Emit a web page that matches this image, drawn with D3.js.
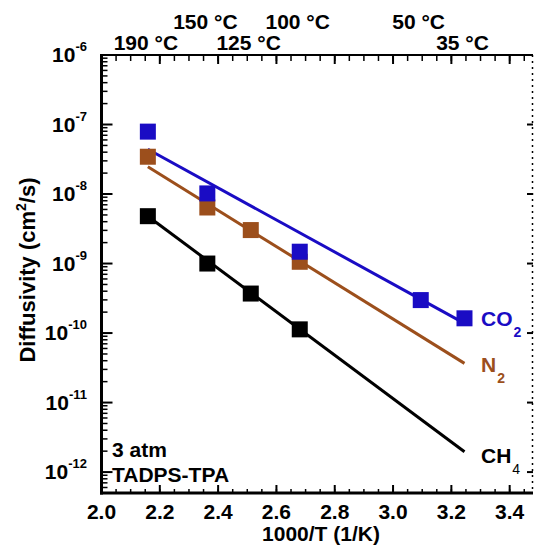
<!DOCTYPE html>
<html>
<head>
<meta charset="utf-8">
<script src="https://cdn.jsdelivr.net/npm/d3@7"></script>
<style>
  body { margin: 0; background: #fff; }
  svg { display: block; }
  text { font-family: "Liberation Sans", Arial, sans-serif; font-weight: bold; }
</style>
</head>
<body>
<svg></svg>
<script>
// data
let co2X = [2.159, 2.363, 2.680, 3.095, 3.245];
let co2Y = [7.9e-8, 1.02e-8, 1.48e-9, 2.98e-10, 1.63e-10];
let n2X = [2.159, 2.363, 2.512, 2.680];
let n2Y = [3.44e-8, 6.4e-9, 3.03e-9, 1.06e-9];
let ch4X = [2.159, 2.363, 2.512, 2.680];
let ch4Y = [4.8e-9, 1.0e-9, 3.7e-10, 1.13e-10];

// fitted lines (end points)
let co2Fit = [[2.159, 4.4e-8], [3.245, 1.38e-10]];
let n2Fit = [[2.159, 2.47e-8], [3.245, 3.66e-11]];
let ch4Fit = [[2.159, 4.8e-9], [3.245, 1.96e-12]];

// top axis temperatures (°C), two rows of labels
let tempRow1 = [150, 100, 50];
let tempRow2 = [190, 125, 35];

let xTicks = [2.0, 2.2, 2.4, 2.6, 2.8, 3.0, 3.2, 3.4];
let yExp = [-6, -7, -8, -9, -10, -11, -12];

let config = { svg: {}, plot: {} };
config.svg.width = 534;
config.svg.height = 549;
config.plot.left = 101.5;
config.plot.right = 533;
config.plot.top = 55;
config.plot.bottom = 493;

let svg = d3.select('svg')
  .attr('width', config.svg.width)
  .attr('height', config.svg.height);

let x = d3.scaleLinear().domain([2.0, 3.48]).range([config.plot.left, config.plot.right]);
let y = d3.scaleLog().domain([5e-13, 1e-6]).range([config.plot.bottom, config.plot.top]);

let blue = '#1a0cc4';
let brown = '#9c4f1c';

function tempToX(c) { return 1000 / (c + 273.15); }

// minor ticks
let xMinor = d3.range(2.0, 3.48, 0.05).map(v => +v.toFixed(2));
let yMinor = [];
for (let e = -13; e < -6; e++) {
  for (let m = 2; m < 10; m++) {
    let v = m * Math.pow(10, e);
    if (v >= 5e-13 && v <= 1e-6) yMinor.push(v);
  }
}
let yMajor = yExp.map(e => Math.pow(10, e));

let axes = svg.append('g').attr('stroke', '#000');

// bottom ticks
axes.selectAll('.bmin').data(xMinor).enter().append('line')
  .attr('x1', d => x(d)).attr('x2', d => x(d))
  .attr('y1', config.plot.bottom).attr('y2', config.plot.bottom - 4)
  .attr('stroke-width', 1.5);
axes.selectAll('.bmaj').data(xTicks).enter().append('line')
  .attr('x1', d => x(d)).attr('x2', d => x(d))
  .attr('y1', config.plot.bottom).attr('y2', config.plot.bottom - 8)
  .attr('stroke-width', 2);
// top ticks
axes.selectAll('.tmin').data(xMinor).enter().append('line')
  .attr('x1', d => x(d)).attr('x2', d => x(d))
  .attr('y1', config.plot.top).attr('y2', config.plot.top + 6)
  .attr('stroke-width', 1.5);
axes.selectAll('.tmaj').data(xTicks).enter().append('line')
  .attr('x1', d => x(d)).attr('x2', d => x(d))
  .attr('y1', config.plot.top).attr('y2', config.plot.top + 9)
  .attr('stroke-width', 2);
// left ticks
axes.selectAll('.lmin').data(yMinor).enter().append('line')
  .attr('x1', config.plot.left).attr('x2', config.plot.left + 6)
  .attr('y1', d => y(d)).attr('y2', d => y(d))
  .attr('stroke-width', 1.5);
axes.selectAll('.lmaj').data(yMajor).enter().append('line')
  .attr('x1', config.plot.left).attr('x2', config.plot.left + 11)
  .attr('y1', d => y(d)).attr('y2', d => y(d))
  .attr('stroke-width', 2);
// right ticks
axes.selectAll('.rmaj').data(yMajor).enter().append('line')
  .attr('x1', config.plot.right).attr('x2', config.plot.right - 6)
  .attr('y1', d => y(d)).attr('y2', d => y(d))
  .attr('stroke-width', 2);

// frame
axes.append('line')
  .attr('x1', config.plot.left).attr('x2', config.plot.left)
  .attr('y1', config.plot.top).attr('y2', config.plot.bottom + 1.5)
  .attr('stroke-width', 3);
axes.append('line')
  .attr('x1', config.plot.left - 1.5).attr('x2', config.plot.right)
  .attr('y1', config.plot.bottom).attr('y2', config.plot.bottom)
  .attr('stroke-width', 3);
axes.append('line')
  .attr('x1', config.plot.left - 1.5).attr('x2', config.plot.right)
  .attr('y1', config.plot.top).attr('y2', config.plot.top)
  .attr('stroke-width', 2);
axes.append('line')
  .attr('x1', config.plot.right - 0.5).attr('x2', config.plot.right - 0.5)
  .attr('y1', config.plot.top).attr('y2', config.plot.bottom)
  .attr('stroke-width', 1.5)
  .attr('stroke-dasharray', '2,4');

// x tick labels
svg.selectAll('.xl').data(xTicks).enter().append('text')
  .attr('x', d => x(d)).attr('y', 519)
  .attr('text-anchor', 'middle').attr('font-size', 21)
  .text(d => d.toFixed(1));

// y tick labels with superscripts
yExp.forEach(function(e) {
  let t = svg.append('text')
    .attr('x', 87).attr('y', y(Math.pow(10, e)) + 7)
    .attr('text-anchor', 'end').attr('font-size', 21);
  t.append('tspan').text('10');
  t.append('tspan').attr('font-size', 13).attr('dy', -11).text(String(e));
});

// top temperature labels
svg.selectAll('.t1').data(tempRow1).enter().append('text')
  .attr('x', d => x(tempToX(d)) - 2).attr('y', 29)
  .attr('text-anchor', 'middle').attr('font-size', 21)
  .text(d => d + ' °C');
svg.selectAll('.t2').data(tempRow2).enter().append('text')
  .attr('x', d => x(tempToX(d)) - 2).attr('y', 50)
  .attr('text-anchor', 'middle').attr('font-size', 21)
  .text(d => d + ' °C');

// axis titles
svg.append('text')
  .attr('x', 321).attr('y', 541)
  .attr('text-anchor', 'middle').attr('font-size', 21)
  .text('1000/T (1/K)');

let yt = svg.append('text')
  .attr('transform', 'translate(35,270) rotate(-90)')
  .attr('text-anchor', 'middle').attr('font-size', 22);
yt.append('tspan').text('Diffusivity (cm');
yt.append('tspan').attr('font-size', 14).attr('dy', -9).text('2');
yt.append('tspan').attr('dy', 9).text('/s)');

// fit lines
let line = d3.line().x(d => x(d[0])).y(d => y(d[1]));
let fits = [[ch4Fit, '#000'], [n2Fit, brown], [co2Fit, blue]];
fits.forEach(function(f) {
  svg.append('path')
    .datum(f[0])
    .attr('fill', 'none')
    .attr('stroke', f[1])
    .attr('stroke-width', 3)
    .attr('d', line);
});

// squares
let sq = 16;
function drawSquares(xs, ys, color) {
  let pts = xs.map((v, i) => [v, ys[i]]);
  svg.append('g').selectAll('rect').data(pts).enter().append('rect')
    .attr('x', d => x(d[0]) - sq / 2)
    .attr('y', d => y(d[1]) - sq / 2)
    .attr('width', sq).attr('height', sq)
    .attr('fill', color);
}
drawSquares(ch4X, ch4Y, '#000');
drawSquares(n2X, n2Y, brown);
drawSquares(co2X, co2Y, blue);

// series labels
function seriesLabel(main, sub, color, xx, yy, subWeight) {
  let t = svg.append('text')
    .attr('x', xx).attr('y', yy)
    .attr('font-size', 21).attr('fill', color);
  t.append('tspan').text(main);
  t.append('tspan').attr('font-size', 14).attr('dy', 11).attr('dx', 1)
    .attr('font-weight', subWeight).text(sub);
}
seriesLabel('CO', '2', blue, 481, 326, 'bold');
seriesLabel('N', '2', brown, 481, 372, 'bold');
seriesLabel('CH', '4', '#000', 481, 463, 'normal');

// annotations
svg.append('text').attr('x', 112).attr('y', 457).attr('font-size', 21).text('3 atm');
svg.append('text').attr('x', 112).attr('y', 482).attr('font-size', 21).text('TADPS-TPA');
</script>
</body>
</html>
